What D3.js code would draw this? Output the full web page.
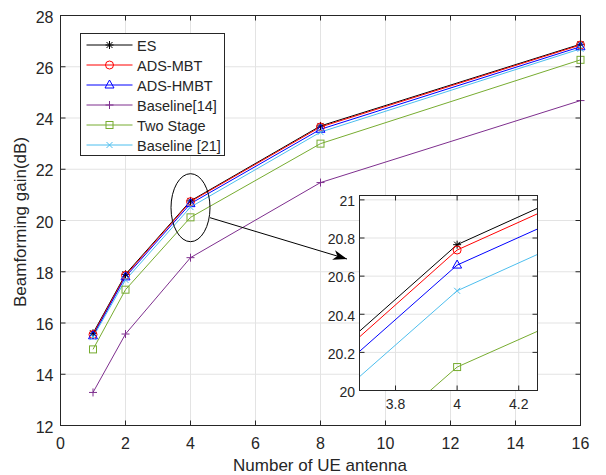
<!DOCTYPE html>
<html>
<head>
<meta charset="utf-8">
<script src="https://cdn.jsdelivr.net/npm/d3@7/dist/d3.min.js"></script>
<style>
  body { margin: 0; background: #fff; }
  text { font-family: "Liberation Sans", Arial, sans-serif; fill: #262626; }
</style>
</head>
<body>
<svg id="chart" width="606" height="475"></svg>
<script>
'use strict';
// data
const antennas = [1, 2, 4, 8, 16];
const seriesNames = ["ES", "ADS-MBT", "ADS-HMBT", "Baseline[14]", "Two Stage", "Baseline [21]"];
const esGain = [15.6, 17.9, 20.765, 23.69, 26.88];
const adsMbtGain = [15.55, 17.86, 20.737, 23.65, 26.85];
const adsHmbtGain = [15.5, 17.8, 20.658, 23.56, 26.78];
const baseline14Gain = [13.29, 15.57, 18.55, 21.48, 24.68];
const twoStageGain = [14.97, 17.3, 20.123, 23.0, 26.27];
const baseline21Gain = [15.45, 17.68, 20.523, 23.45, 26.7];
const seriesColors = ["#000000", "#ff0000", "#0000ff", "#7e2f8e", "#77ac30", "#4dbeee"];
const seriesMarkers = ["star", "circle", "triangle", "plus", "square", "cross"];
const xTicks = [0, 2, 4, 6, 8, 10, 12, 14, 16];
const yTicks = [12, 14, 16, 18, 20, 22, 24, 26, 28];
const insetXTicks = [3.8, 4, 4.2];
const insetYTicks = [20, 20.2, 20.4, 20.6, 20.8, 21];

const allGains = [esGain, adsMbtGain, adsHmbtGain, baseline14Gain, twoStageGain, baseline21Gain];
const series = seriesNames.map((name, i) => ({
  name: name,
  color: seriesColors[i],
  marker: seriesMarkers[i],
  values: antennas.map((a, j) => ({x: a, y: allGains[i][j]}))
}));

const axisColor = "#262626";
const gridColor = "#e3e3e3";
const svg = d3.select("#chart");

// draws a MATLAB-like marker
function drawMarker(g, type, x, y, color) {
  const s = 4;
  if (type === "circle") {
    g.append("circle").attr("cx", x).attr("cy", y).attr("r", s)
      .attr("fill", "none").attr("stroke", color).attr("stroke-width", 1);
  } else if (type === "triangle") {
    g.append("path").attr("d", `M${x},${y - s - 1}L${x + s + 0.5},${y + s - 1}L${x - s - 0.5},${y + s - 1}Z`)
      .attr("fill", "none").attr("stroke", color).attr("stroke-width", 1);
  } else if (type === "square") {
    g.append("rect").attr("x", x - 3.5).attr("y", y - 3.5).attr("width", 7).attr("height", 7)
      .attr("fill", "none").attr("stroke", color).attr("stroke-width", 1);
  } else if (type === "plus") {
    g.append("path").attr("d", `M${x - s},${y}H${x + s}M${x},${y - s}V${y + s}`)
      .attr("stroke", color).attr("stroke-width", 1);
  } else if (type === "cross") {
    g.append("path").attr("d", `M${x - 3},${y - 3}L${x + 3},${y + 3}M${x - 3},${y + 3}L${x + 3},${y - 3}`)
      .attr("stroke", color).attr("stroke-width", 1);
  } else if (type === "star") {
    g.append("path").attr("d", `M${x - s},${y}H${x + s}M${x},${y - s}V${y + s}M${x - 3},${y - 3}L${x + 3},${y + 3}M${x - 3},${y + 3}L${x + 3},${y - 3}`)
      .attr("stroke", color).attr("stroke-width", 1);
  }
}

// white plot area plus grid
function buildAxes(parent, x, y, xt, yt) {
  const [x0, x1] = x.range();
  const [y0, y1] = y.range();
  const g = parent.append("g");
  g.append("rect").attr("x", x0).attr("y", y1).attr("width", x1 - x0).attr("height", y0 - y1).attr("fill", "#fff");
  const grid = g.append("g").attr("stroke", gridColor).attr("stroke-width", 1);
  xt.forEach(t => grid.append("line").attr("x1", x(t)).attr("x2", x(t)).attr("y1", y0).attr("y2", y1));
  yt.forEach(t => grid.append("line").attr("y1", y(t)).attr("y2", y(t)).attr("x1", x0).attr("x2", x1));
  return g;
}

// box, inward ticks on all sides and tick labels
function finishAxes(g, x, y, xt, yt, fmtX, fmtY, fontSize, xLabelGap, yLabelGap) {
  const [x0, x1] = x.range();
  const [y0, y1] = y.range();
  const tk = 5;
  const ax = g.append("g").attr("stroke", axisColor).attr("stroke-width", 1);
  xt.forEach(t => {
    ax.append("line").attr("x1", x(t)).attr("x2", x(t)).attr("y1", y0).attr("y2", y0 - tk);
    ax.append("line").attr("x1", x(t)).attr("x2", x(t)).attr("y1", y1).attr("y2", y1 + tk);
  });
  yt.forEach(t => {
    ax.append("line").attr("y1", y(t)).attr("y2", y(t)).attr("x1", x0).attr("x2", x0 + tk);
    ax.append("line").attr("y1", y(t)).attr("y2", y(t)).attr("x1", x1).attr("x2", x1 - tk);
  });
  ax.append("rect").attr("x", x0).attr("y", y1).attr("width", x1 - x0).attr("height", y0 - y1).attr("fill", "none");
  xt.forEach(t => g.append("text").attr("x", x(t)).attr("y", y0 + xLabelGap)
    .attr("text-anchor", "middle").attr("font-size", fontSize).text(fmtX(t)));
  yt.forEach(t => g.append("text").attr("x", x0 - yLabelGap).attr("y", y(t)).attr("dy", "0.45em")
    .attr("text-anchor", "end").attr("font-size", fontSize).text(fmtY(t)));
}

// main axes
const x = d3.scaleLinear().domain([0, 16]).range([60.5, 580.5]);
const y = d3.scaleLinear().domain([12, 28]).range([425.5, 15.5]);
const mainG = buildAxes(svg, x, y, xTicks, yTicks);

const line = d3.line().x(d => x(d.x)).y(d => y(d.y));
series.forEach(s => {
  mainG.append("path").datum(s.values).attr("d", line)
    .attr("fill", "none").attr("stroke", s.color).attr("stroke-width", 1);
});
series.forEach(s => {
  s.values.forEach(v => drawMarker(mainG, s.marker, x(v.x), y(v.y), s.color));
});
finishAxes(mainG, x, y, xTicks, yTicks, d3.format("d"), d3.format("d"), 16, 23, 7);

// axis titles
svg.append("text").attr("x", 320).attr("y", 471).attr("text-anchor", "middle")
  .attr("font-size", 17).text("Number of UE antenna");
svg.append("text").attr("transform", "translate(26,222) rotate(-90)").attr("text-anchor", "middle")
  .attr("font-size", 17).text("Beamforming gain(dB)");

// zoom ellipse and arrow
svg.append("defs").append("marker").attr("id", "arrowHead")
  .attr("viewBox", "0 0 14 10").attr("refX", 14).attr("refY", 5)
  .attr("markerWidth", 14).attr("markerHeight", 10).attr("markerUnits", "userSpaceOnUse")
  .attr("orient", "auto")
  .append("path").attr("d", "M0,0L14,5L0,10L4,5Z").attr("fill", "#000");
svg.append("ellipse").attr("cx", x(4)).attr("cy", y(20.5)).attr("rx", 19.5).attr("ry", 34)
  .attr("fill", "none").attr("stroke", "#000").attr("stroke-width", 1);
svg.append("line").attr("x1", x(4) + 19.5).attr("y1", y(20.5) + 10)
  .attr("x2", 347).attr("y2", 259)
  .attr("stroke", "#000").attr("stroke-width", 1).attr("marker-end", "url(#arrowHead)");

// legend
const legend = svg.append("g").attr("transform", "translate(80.5,33.5)");
legend.append("rect").attr("width", 144).attr("height", 122)
  .attr("fill", "#fff").attr("stroke", axisColor).attr("stroke-width", 1);
series.forEach((s, i) => {
  const ly = 11.5 + i * 20;
  legend.append("line").attr("x1", 6).attr("x2", 52).attr("y1", ly).attr("y2", ly)
    .attr("stroke", s.color).attr("stroke-width", 1);
  drawMarker(legend, s.marker, 29, ly, s.color);
  legend.append("text").attr("x", 56.5).attr("y", ly).attr("dy", "0.38em")
    .attr("font-size", 14.5).text(s.name);
});

// inset
const xi = d3.scaleLinear().domain([3.683, 4.261]).range([359.5, 537.5]);
const yi = d3.scaleLinear().domain([20, 21.023]).range([390.5, 195.5]);
const insetG = buildAxes(svg, xi, yi, insetXTicks, insetYTicks);
svg.select("defs").append("clipPath").attr("id", "insetClip")
  .append("rect").attr("x", 359.5).attr("y", 195.5).attr("width", 178).attr("height", 195);
const lineInset = d3.line().x(d => xi(d.x)).y(d => yi(d.y));
const insetPlot = insetG.append("g").attr("clip-path", "url(#insetClip)");
series.forEach(s => {
  insetPlot.append("path").datum(s.values).attr("d", lineInset)
    .attr("fill", "none").attr("stroke", s.color).attr("stroke-width", 1);
});
series.forEach(s => {
  s.values.forEach(v => drawMarker(insetPlot, s.marker, xi(v.x), yi(v.y), s.color));
});
finishAxes(insetG, xi, yi, insetXTicks, insetYTicks, t => t === 4 ? "4" : d3.format(".1f")(t),
  t => (t === 20 || t === 21) ? d3.format("d")(t) : d3.format(".1f")(t), 14, 18, 4.5);
</script>
</body>
</html>
